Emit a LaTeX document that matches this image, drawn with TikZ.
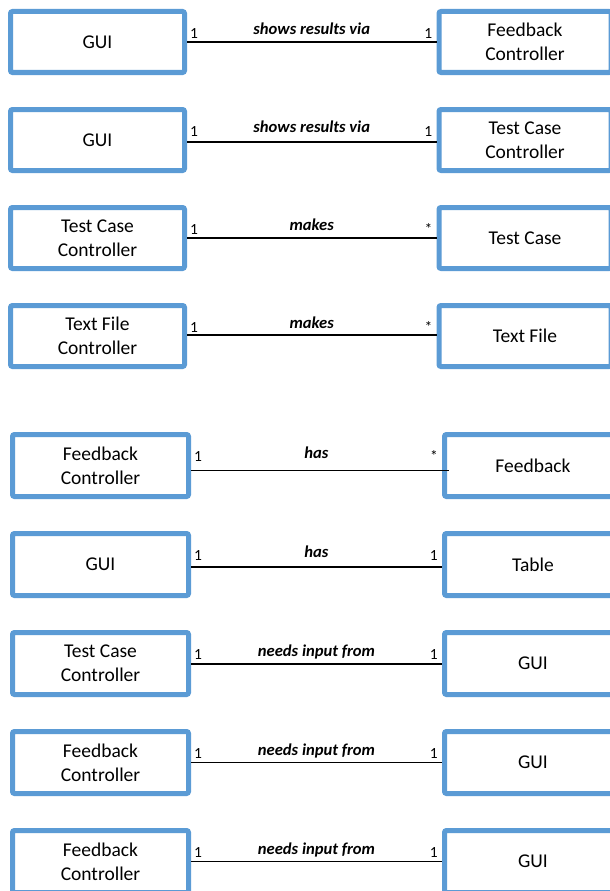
\documentclass[tikz,border=0pt]{standalone}
\usepackage{fontspec}
\setmainfont{Carlito}
\usetikzlibrary{calc}
\definecolor{boxblue}{HTML}{5B9BD5}
\tikzset{
  cls/.style={draw=boxblue, line width=5pt, rounded corners=2pt, fill=white,
    align=center, inner sep=0pt, font=\fontsize{19.5}{24}\selectfont},
  assoc/.style={line width=1.8pt},
  rel/.style={anchor=base, inner sep=0pt, font=\fontsize{16.6}{18}\selectfont\bfseries\itshape},
  mult/.style={inner sep=0pt, font=\fontsize{15.5}{18}\selectfont},
}

\begin{document}
\begin{tikzpicture}[x=1pt,y=-1pt]
      \useasboundingbox (0,0) rectangle (610,891);
      \clip (0,0) rectangle (610,891);
      % upper block
      \foreach \i/\y/\dy/\a/\b/\rel/\m in {
        1/42/0/GUI/Feedback\\Controller/shows results via/1,
        2/140/2/GUI/Test Case\\Controller/shows results via/1,
        3/238/0/Test Case\\Controller/Test Case/makes/*,
        4/336/-1/Text File\\Controller/Text File/makes/*}
      {
        \node[cls, minimum width=174pt, minimum height=61pt] (l\i) at (97.5,\y) {\a};
        \node[cls, minimum width=172pt, minimum height=61pt] (r\i) at (525,\y) {\b};
        \draw[assoc] ($(l\i.east)+(0,\dy)$) -- ($(r\i.west)+(0,\dy)$);
        \path (l\i.east) -- (r\i.west) node[rel, midway, yshift=7.5pt] (t\i) {\rel};
        \node[mult, anchor=base west] (ml\i) at ($(l\i.east)+(3,-4)$) {1};
        \node[mult, anchor=base east] (mr\i) at ($(r\i.west)+(-4,-4)$) {\m};
      }
      % lower block
      \foreach \i/\y/\dy/\ext/\a/\b/\rel/\m in {
        5/465.5/5/7/Feedback\\Controller/Feedback/has/*,
        6/564.5/2.5/0/GUI/Table/has/1,
        7/663.5/0.5/0/Test Case\\Controller/GUI/needs input from/1,
        8/762.5/0/0/Feedback\\Controller/GUI/needs input from/1,
        9/861.5/0/0/Feedback\\Controller/GUI/needs input from/1}
      {
        \node[cls, minimum width=176pt, minimum height=62pt] (l\i) at (100.5,\y) {\a};
        \node[cls, minimum width=177pt, minimum height=62pt] (r\i) at (533,\y) {\b};
        \draw[assoc] ($(l\i.east)+(0,\dy)$) -- ($(r\i.west)+(\ext,\dy)$);
        \path (l\i.east) -- (r\i.west) node[rel, midway, yshift=7.5pt] (t\i) {\rel};
        \node[mult, anchor=base west] (ml\i) at ($(l\i.east)+(3,-4)$) {1};
        \node[mult, anchor=base east] (mr\i) at ($(r\i.west)+(-4,-4)$) {\m};
      }
\end{tikzpicture}
\end{document}
